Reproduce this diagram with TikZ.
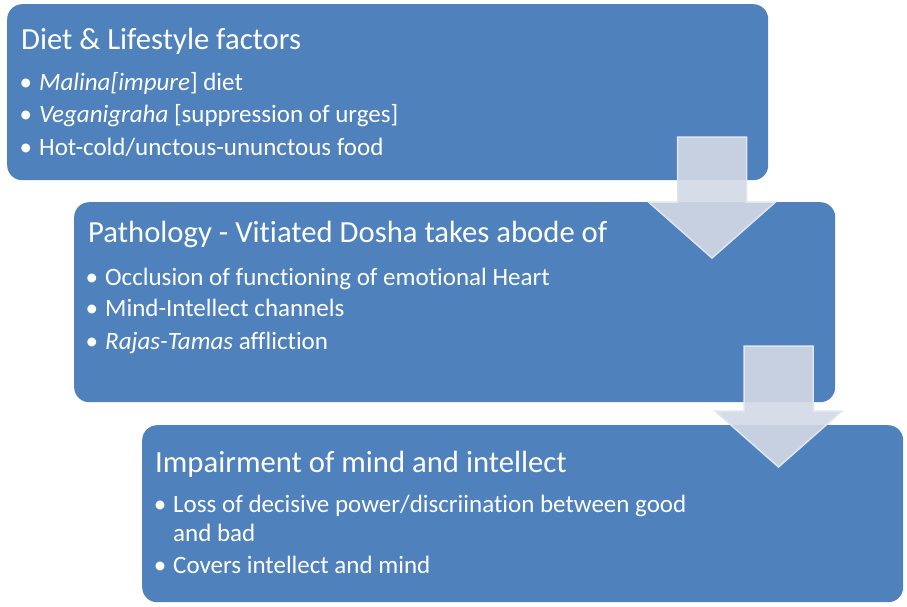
\documentclass[tikz,border=0pt]{standalone}
\usepackage{fontspec}
\setmainfont{Carlito}[Ligatures=NoCommon]
\definecolor{boxblue}{RGB}{79,129,189}
\definecolor{arrowfill}{RGB}{211,217,229}
\definecolor{arrowline}{RGB}{224,230,240}
\newcommand\bul{\llap{\textbullet\hspace{7pt}}}

\begin{document}
\begin{tikzpicture}[x=1pt,y=-1pt,
    stage/.style={fill=boxblue, rounded corners=15pt, minimum width=761pt, anchor=north west, inner sep=0pt},
    head/.style={text=white, font=\fontsize{30.7}{34}\selectfont, anchor=base west, inner sep=0pt},
    item/.style={text=white, font=\fontsize{25}{28}\selectfont, anchor=base west, inner sep=0pt},
    downarrow/.style={fill=arrowfill, fill opacity=0.9, draw=arrowline, line width=1.5pt}]
    \useasboundingbox (0,0) rectangle (907,606);
    \node[stage, minimum height=176pt] (b1) at (7,4) {};
    \node[stage, minimum height=200pt] (b2) at (74,202) {};
    \node[stage, minimum height=177pt] (b3) at (142,425) {};

    \node[head] (t1) at ([shift={(14,45)}]b1.north west) {Diet \& Lifestyle factors};
    \node[item] (i11) at ([shift={(32,86)}]b1.north west) {\bul\textit{Malina[impure}] diet};
    \node[item] (i12) at ([shift={(32,118)}]b1.north west) {\bul\textit{Veganigraha} [suppression of urges]};
    \node[item] (i13) at ([shift={(32,151)}]b1.north west) {\bul Hot-cold/unctous-ununctous food};

    \node[head] (t2) at ([shift={(14,40)}]b2.north west) {Pathology - Vitiated Dosha takes abode of};
    \node[item] (i21) at ([shift={(31,83)}]b2.north west) {\bul Occlusion of functioning of emotional Heart};
    \node[item] (i22) at ([shift={(31,114)}]b2.north west) {\bul Mind-Intellect channels};
    \node[item] (i23) at ([shift={(31,147)}]b2.north west) {\bul\textit{Rajas-Tamas} affliction};

    \node[head] (t3) at ([shift={(13,47)}]b3.north west) {Impairment of mind and intellect};
    \node[item] (i31) at ([shift={(31,87)}]b3.north west) {\bul Loss of decisive power/discriination between good};
    \node[item] (i31b) at ([shift={(31,116)}]b3.north west) {and bad};
    \node[item] (i32) at ([shift={(31,148)}]b3.north west) {\bul Covers intellect and mind};

    \foreach \c in {(712,137),(778.5,346)}
        \draw[downarrow, shift={\c}] (-34.5,0) -- (34.5,0) -- (34.5,65) -- (63.5,65)
            -- (0,121) -- (-63.5,65) -- (-34.5,65) -- cycle;
\end{tikzpicture}
\end{document}
